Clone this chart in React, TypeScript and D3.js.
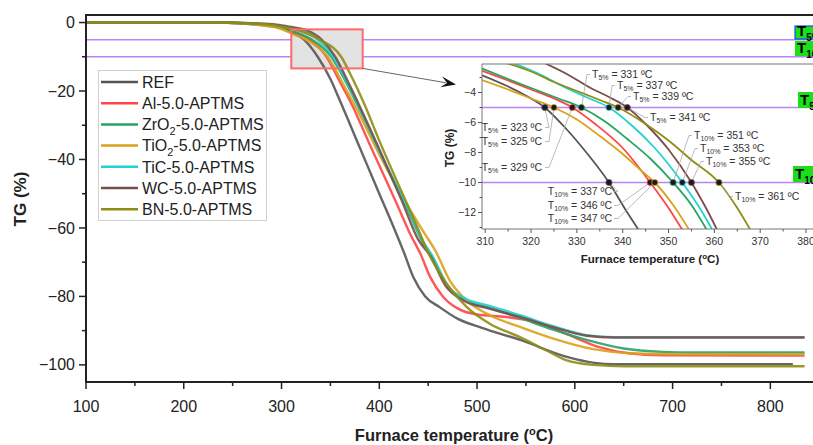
import React from 'react';
import * as d3 from 'd3';

type Pt = [number, number];

// series order: REF, Al, ZrO2, TiO2, TiC, WC, BN
const seriesNames = ['REF', 'Al-5.0-APTMS', 'ZrO2-5.0-APTMS', 'TiO2-5.0-APTMS', 'TiC-5.0-APTMS', 'WC-5.0-APTMS', 'BN-5.0-APTMS'];
const seriesColors = ['#555555', '#ff4545', '#27a463', '#d9a21c', '#22d2d2', '#7a4c4c', '#8e8e14'];

// main TG curves, [temperature °C, TG %]
const tgREF: Pt[] = [[100, 0], [230, 0], [260, -0.3], [285, -0.9], [300, -1.7], [310, -2.85], [323, -5], [337, -10], [350, -16.5], [360, -23], [380, -36.5], [400, -50], [415, -60], [425, -67], [435, -74.5], [447, -80], [462, -83.2], [480, -86.5], [505, -89.2], [545, -92.8], [590, -97.5], [620, -99.4], [640, -99.8], [823, -99.8]];
const tgAl: Pt[] = [[100, 0], [230, 0], [260, -0.2], [285, -0.8], [300, -1.6], [310, -2.6], [329, -5], [346, -10], [360, -17.5], [372, -24], [390, -35.5], [418, -53], [432, -62], [442, -67.5], [452, -74.3], [465, -80], [480, -83.5], [500, -85.3], [530, -86], [560, -87.5], [590, -90.8], [625, -94.8], [655, -96.6], [690, -97.2], [835, -97.3]];
const tgZrO2: Pt[] = [[100, 0], [230, 0], [260, -0.2], [285, -0.8], [300, -1.6], [310, -2.4], [331, -5], [351, -10], [367, -18], [380, -25.5], [400, -38], [428, -54], [445, -64.5], [455, -69], [470, -77], [488, -81], [513, -83.3], [544, -86.3], [578, -89.7], [612, -92.7], [650, -95.2], [690, -96.2], [720, -96.4], [835, -96.4]];
const tgTiO2: Pt[] = [[100, 0], [230, 0], [260, -0.3], [285, -1.0], [300, -1.9], [310, -3.2], [325, -5], [347, -10], [365, -19], [380, -27], [400, -38.5], [430, -54], [445, -61], [458, -67], [472, -75.3], [489, -81.1], [513, -85.5], [544, -88.9], [578, -92.3], [619, -95.4], [656, -96.6], [700, -96.9], [835, -96.9]];
const tgTiC: Pt[] = [[100, 0], [235, 0], [265, -0.2], [290, -0.6], [305, -1.4], [317, -2.1], [337, -5], [353, -10], [368, -18], [380, -25], [400, -37.5], [428, -53.5], [445, -64], [455, -68.5], [470, -77], [488, -80.6], [513, -82.8], [544, -85.5], [578, -88.7], [612, -91.3], [640, -91.9], [835, -91.9]];
const tgWC: Pt[] = [[100, 0], [240, 0], [270, -0.2], [295, -0.6], [310, -1.3], [324, -2.1], [341, -5], [355, -10], [370, -18.5], [380, -24.5], [400, -37], [423, -52], [440, -63.5], [452, -68], [468, -77], [486, -81.2], [513, -83.6], [544, -86], [578, -89], [612, -91.5], [640, -92], [835, -92]];
const tgBN: Pt[] = [[100, 0], [235, 0], [265, -0.2], [290, -0.7], [305, -1.5], [315, -2.1], [339, -5], [361, -10], [372, -16], [385, -24], [400, -34.5], [430, -54], [440, -60.5], [448, -66], [469, -76.3], [489, -83], [513, -88], [544, -91.9], [571, -95.8], [591, -98.6], [619, -100], [650, -100.4], [835, -100.4]];

// zoomed readings for the inset (310-380 °C)
const inREF: Pt[] = [[309.3, -2.85], [315, -3.6], [320, -4.4], [323, -5], [327, -6.2], [331, -7.6], [337, -10], [341, -12], [344, -13.4]];
const inAl: Pt[] = [[309.3, -2.55], [315, -3.2], [320, -3.8], [325, -4.4], [329, -5], [334, -6.1], [340, -7.7], [346, -10], [350, -11.7], [353.5, -13.4]];
const inZrO2: Pt[] = [[309.3, -2.4], [315, -3.1], [320, -3.7], [326, -4.4], [331, -5], [336, -5.9], [341, -7.1], [346, -8.4], [351, -10], [355, -11.5], [358.8, -13.4]];
const inTiO2: Pt[] = [[309.3, -3.17], [315, -3.8], [320, -4.4], [325, -5], [330, -5.8], [335, -6.9], [340, -8.1], [344, -9.2], [347, -10], [351, -11.5], [355, -13.4]];
const inTiC: Pt[] = [[315, -1.9], [322, -2.8], [327, -3.6], [332, -4.3], [337, -5], [342, -6.2], [347, -7.7], [353, -10], [357, -11.8], [360, -13.4]];
const inWC: Pt[] = [[322, -1.9], [328, -2.8], [333, -3.7], [337, -4.3], [341, -5], [345, -6.1], [350, -7.8], [355, -10], [358, -11.6], [361, -13.4]];
const inBN: Pt[] = [[313, -1.9], [320, -2.6], [325, -3.3], [330, -3.9], [335, -4.5], [339, -5], [345, -6.1], [350, -7.2], [355, -8.5], [361, -10], [365, -11.7], [368.3, -13.4]];

const mainSeries = [tgREF, tgAl, tgZrO2, tgTiO2, tgTiC, tgWC, tgBN];
const insetSeries = [inREF, inAl, inZrO2, inTiO2, inTiC, inWC, inBN];

const t5Values = [323, 329, 331, 325, 337, 341, 339];
const t10Values = [337, 346, 351, 347, 353, 355, 361];

const xTicks = [100, 200, 300, 400, 500, 600, 700, 800];
const yTicks = [0, -20, -40, -60, -80, -100];
const insetXTicks = [310, 320, 330, 340, 350, 360, 370, 380];
const insetYTicks = [-4, -6, -8, -10, -12];

// callout placement (px) per series: text anchor point, text-anchor, leader start
type Callout = { x: number; y: number; anchor: 'start' | 'end'; lx: number };
const t5Layout: Callout[] = [
  { x: 542, y: 131, anchor: 'end', lx: 545 },
  { x: 542, y: 171, anchor: 'end', lx: 545 },
  { x: 592, y: 78, anchor: 'start', lx: 590 },
  { x: 542, y: 145, anchor: 'end', lx: 545 },
  { x: 617, y: 89, anchor: 'start', lx: 615 },
  { x: 650, y: 121, anchor: 'start', lx: 648 },
  { x: 633, y: 100, anchor: 'start', lx: 631 },
];
const t10Layout: Callout[] = [
  { x: 612, y: 195, anchor: 'end', lx: 614 },
  { x: 612, y: 209, anchor: 'end', lx: 614 },
  { x: 694, y: 139, anchor: 'start', lx: 692 },
  { x: 612, y: 222, anchor: 'end', lx: 614 },
  { x: 700, y: 152, anchor: 'start', lx: 698 },
  { x: 706, y: 165, anchor: 'start', lx: 704 },
  { x: 735, y: 200, anchor: 'start', lx: 733 },
];

const FONT = '"Liberation Sans", Arial, sans-serif';
const PURPLE = '#b784f7';
const fmt = d3.format('d');

function Sub({ base, sub, rest, size, subSize, drop = 0.3 }: { base: string; sub: string; rest?: string; size: number; subSize: number; drop?: number }) {
  const d = size * drop;
  return (
    <>
      <tspan fontSize={size}>{base}</tspan>
      <tspan fontSize={subSize} dy={d}>{sub}</tspan>
      <tspan fontSize={size} dy={-d}>{rest}</tspan>
    </>
  );
}

function LegendLabel({ name }: { name: string }) {
  const m = name.match(/^(ZrO|TiO)2(.*)$/);
  if (!m) return <>{name}</>;
  return <Sub base={m[1]} sub="2" rest={m[2]} size={16} subSize={11} />;
}

function GreenTag({ x, y, w, h, sub, border }: { x: number; y: number; w: number; h: number; sub: string; border?: boolean }) {
  return (
    <g>
      <rect x={x} y={y} width={w} height={h} fill="#19e019" stroke={border ? '#2b3cff' : 'none'} strokeWidth={1.2} />
      <text x={x + 2} y={y + h - 3} fontFamily={FONT} fontWeight="bold" fill="#000">
        <Sub base="T" sub={sub} size={15} subSize={10} />
      </text>
    </g>
  );
}

function Callouts({ values, layout, level, ix, iy, sub }: { values: number[]; layout: Callout[]; level: number; ix: d3.ScaleLinear<number, number>; iy: d3.ScaleLinear<number, number>; sub: string }) {
  return (
    <g>
      {values.map((t, i) => {
        const L = layout[i];
        const lyy = L.y - 3.5;
        const ex = L.anchor === 'end' ? L.lx + 4 : L.lx - 3;
        return (
          <g key={sub + i}>
            <polyline points={`${L.lx},${lyy} ${ex},${lyy} ${ix(t)},${iy(level)}`} fill="none" stroke="#aaa" strokeWidth={0.8} />
            <text x={L.x} y={L.y} textAnchor={L.anchor} fill="#333">
              <Sub base="T" sub={sub} rest={` = ${t} ºC`} size={10.5} subSize={7} drop={0.22} />
            </text>
          </g>
        );
      })}
    </g>
  );
}

export default function App() {
  const x = d3.scaleLinear().domain([100, 860]).range([86, 829]);
  const y = d3.scaleLinear().domain([2.2, -105]).range([15, 382]);
  const ix = d3.scaleLinear().domain([309.3, 382]).range([482, 815.2]);
  const iy = d3.scaleLinear().domain([-2.1, -13.1]).range([64, 229]);

  const line = d3.line<Pt>().x(d => x(d[0])).y(d => y(d[1])).curve(d3.curveMonotoneX);
  const iline = d3.line<Pt>().x(d => ix(d[0])).y(d => iy(d[1])).curve(d3.curveMonotoneX);

  const plotTop = y.range()[0];
  const plotBottom = y.range()[1];
  const plotLeft = x.range()[0];

  const xMinor = d3.range(150, 860, 100);
  const yMinor = d3.range(-10, -101, -20);
  const ixMinor = d3.range(315, 381, 10);
  const iyMinor = d3.range(-3, -13.1, -2);

  // zoom box and arrow
  const bx0 = x(310), bx1 = x(383), by0 = y(-2), by1 = y(-13.4);
  const tip: Pt = [456, 84.5];
  const dx = tip[0] - bx1, dy = tip[1] - by1;
  const len = Math.hypot(dx, dy);
  const ux = dx / len, uy = dy / len;
  const ah = 15, aw = 5.5;
  const arrowHead = [
    tip,
    [tip[0] - ux * ah - uy * aw, tip[1] - uy * ah + ux * aw],
    [tip[0] - ux * ah * 0.6, tip[1] - uy * ah * 0.6],
    [tip[0] - ux * ah + uy * aw, tip[1] - uy * ah - ux * aw],
  ].map(p => p.join(',')).join(' ');

  return (
    <svg width={813} height={445} style={{ position: 'absolute', left: 0, top: 0, background: '#fff' }} fontFamily={FONT}>
      <defs>
        <clipPath id="mainClip"><rect x={plotLeft} y={plotTop} width={760} height={plotBottom - plotTop} /></clipPath>
        <clipPath id="insetClip"><rect x={482} y={64} width={340} height={165} /></clipPath>
      </defs>

      {/* T5 / T10 reference lines */}
      {[-5, -10].map(v => (
        <line key={v} x1={plotLeft} x2={813} y1={y(v)} y2={y(v)} stroke={PURPLE} strokeWidth={1.5} />
      ))}

      {/* zoom window */}
      <rect x={bx0} y={by0} width={bx1 - bx0} height={by1 - by0} fill="#e3e3e3" />

      <g clipPath="url(#mainClip)">
        {mainSeries.map((s, i) => (
          <path key={i} d={line(s) || ''} fill="none" stroke={seriesColors[i]} strokeWidth={2.4} strokeOpacity={0.9} />
        ))}
      </g>
      <rect x={bx0} y={by0} width={bx1 - bx0} height={by1 - by0} fill="none" stroke="#ff6a6a" strokeWidth={2} />
      <line x1={bx1} y1={by1} x2={tip[0] - ux * 10} y2={tip[1] - uy * 10} stroke="#666" strokeWidth={1} />
      <polygon points={arrowHead} fill="#111" />

      {/* main axes */}
      <line x1={plotLeft - 1} x2={813} y1={plotTop} y2={plotTop} stroke="#222" strokeWidth={2} />
      <line x1={plotLeft} x2={plotLeft} y1={plotTop} y2={plotBottom} stroke="#222" strokeWidth={2} />
      <line x1={plotLeft - 1} x2={813} y1={plotBottom} y2={plotBottom} stroke="#222" strokeWidth={2} />
      {yTicks.map(t => (
        <g key={t}>
          <line x1={plotLeft - 7} x2={plotLeft} y1={y(t)} y2={y(t)} stroke="#222" strokeWidth={1.5} />
          <text x={plotLeft - 11} y={y(t)} dy="0.35em" textAnchor="end" fontSize={16} fill="#222">{fmt(t)}</text>
        </g>
      ))}
      {yMinor.map(t => (
        <line key={t} x1={plotLeft - 4} x2={plotLeft} y1={y(t)} y2={y(t)} stroke="#222" strokeWidth={1.5} />
      ))}
      {xTicks.map(t => (
        <g key={t}>
          <line x1={x(t)} x2={x(t)} y1={plotBottom} y2={plotBottom + 7} stroke="#222" strokeWidth={1.5} />
          <text x={x(t)} y={plotBottom + 30} textAnchor="middle" fontSize={16} fill="#222">{t}</text>
        </g>
      ))}
      {xMinor.map(t => (
        <line key={t} x1={x(t)} x2={x(t)} y1={plotBottom} y2={plotBottom + 4} stroke="#222" strokeWidth={1.5} />
      ))}
      <text x={454} y={441} textAnchor="middle" fontSize={16.5} fontWeight="bold" fill="#222">
        Furnace temperature (<tspan fontSize={11} dy={-6}>o</tspan><tspan dy={6}>C)</tspan>
      </text>
      <text transform={`translate(26,${199}) rotate(-90)`} textAnchor="middle" fontSize={17} fontWeight="bold" fill="#222">TG (%)</text>

      {/* legend */}
      <rect x={98.5} y={70.5} width={168} height={150} fill="#fff" stroke="#d0d0d0" strokeWidth={1} />
      {seriesNames.map((n, i) => {
        const ly = 82 + i * 21.2;
        return (
          <g key={n}>
            <line x1={101} x2={138} y1={ly} y2={ly} stroke={seriesColors[i]} strokeWidth={2.5} />
            <text x={142} y={ly} dy="0.36em" fontSize={16} fill="#222"><LegendLabel name={n} /></text>
          </g>
        );
      })}

      {/* main right-side tags */}
      <GreenTag x={795} y={26} w={30} h={13} sub="5%" border />
      <GreenTag x={795} y={41} w={30} h={15} sub="10%" />

      {/* inset */}
      <rect x={482} y={64} width={340} height={165} fill="#fff" />
      {[-5, -10].map(v => (
        <line key={v} x1={482} x2={813} y1={iy(v)} y2={iy(v)} stroke={PURPLE} strokeWidth={1.5} />
      ))}
      <g clipPath="url(#insetClip)">
        {insetSeries.map((s, i) => (
          <path key={i} d={iline(s) || ''} fill="none" stroke={seriesColors[i]} strokeWidth={1.8} />
        ))}
      </g>
      <line x1={482} x2={813} y1={64} y2={64} stroke="#777" strokeWidth={1} />
      <line x1={482} x2={482} y1={64} y2={229} stroke="#777" strokeWidth={1} />
      <line x1={482} x2={813} y1={229} y2={229} stroke="#777" strokeWidth={1} />
      {insetYTicks.map(t => (
        <g key={t}>
          <line x1={478} x2={482} y1={iy(t)} y2={iy(t)} stroke="#555" />
          <text x={476} y={iy(t)} dy="0.35em" textAnchor="end" fontSize={10.5} fill="#333">{fmt(t)}</text>
        </g>
      ))}
      {iyMinor.map(t => (
        <line key={t} x1={479.5} x2={482} y1={iy(t)} y2={iy(t)} stroke="#555" />
      ))}
      {insetXTicks.map(t => (
        <g key={t}>
          <line x1={ix(t)} x2={ix(t)} y1={229} y2={233} stroke="#555" />
          <text x={ix(t)} y={245} textAnchor="middle" fontSize={10.5} fill="#333">{t}</text>
        </g>
      ))}
      {ixMinor.map(t => (
        <line key={t} x1={ix(t)} x2={ix(t)} y1={229} y2={231.5} stroke="#555" />
      ))}
      <text x={650} y={263} textAnchor="middle" fontSize={11.5} fontWeight="bold" fill="#222">
        Furnace temperature (<tspan fontSize={8} dy={-4}>o</tspan><tspan dy={4}>C)</tspan>
      </text>
      <text transform="translate(454,148) rotate(-90)" textAnchor="middle" fontSize={12} fontWeight="bold" fill="#222">TG (%)</text>

      {/* callouts */}
      <Callouts values={t5Values} layout={t5Layout} level={-5} ix={ix} iy={iy} sub="5%" />
      <Callouts values={t10Values} layout={t10Layout} level={-10} ix={ix} iy={iy} sub="10%" />
      {t5Values.map((t, i) => (
        <circle key={'d5' + i} cx={ix(t)} cy={iy(-5)} r={3} fill="#1a1a1a" stroke={seriesColors[i]} strokeOpacity={0.6} strokeWidth={1.2} />
      ))}
      {t10Values.map((t, i) => (
        <circle key={'d10' + i} cx={ix(t)} cy={iy(-10)} r={3} fill="#1a1a1a" stroke={seriesColors[i]} strokeOpacity={0.6} strokeWidth={1.2} />
      ))}

      <GreenTag x={798} y={92} w={30} h={16} sub="5%" />
      <GreenTag x={793} y={166} w={30} h={16} sub="10%" />
    </svg>
  );
}
